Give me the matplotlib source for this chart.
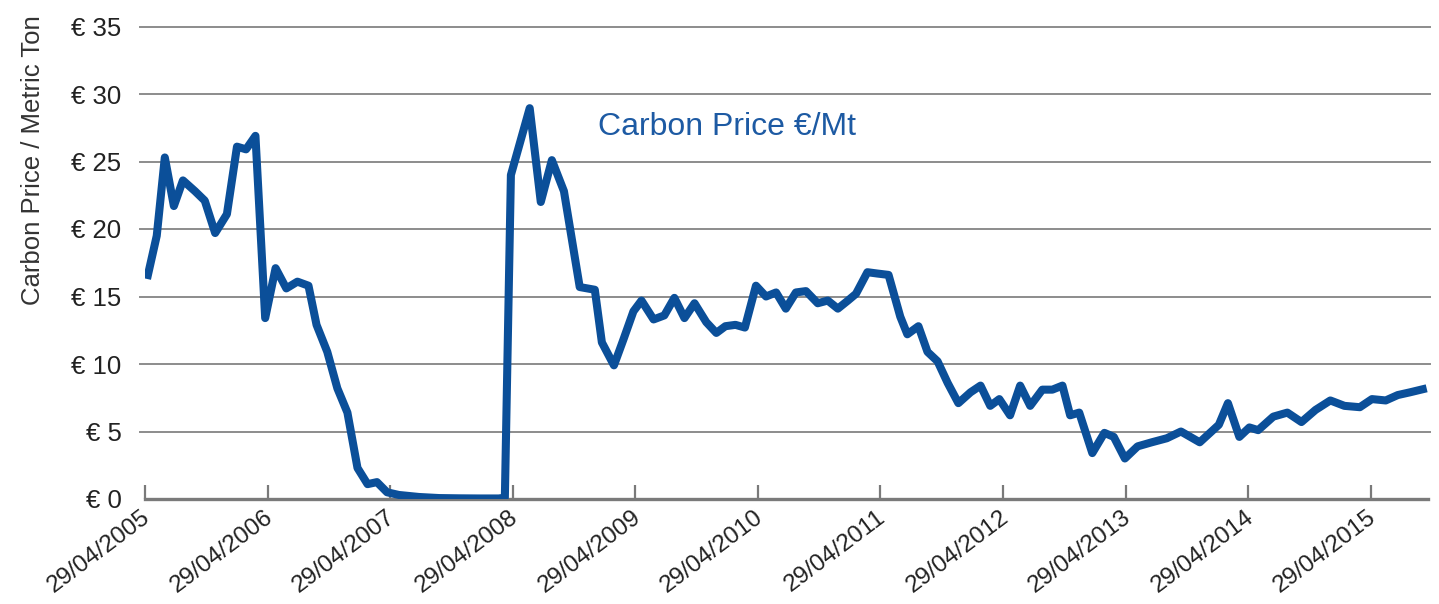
import matplotlib
matplotlib.use("Agg")
import matplotlib.pyplot as plt
import matplotlib.dates as mdates
import matplotlib.transforms as mtransforms
import pandas as pd

dates = [
    "2005-05-05", "2005-06-03", "2005-06-27", "2005-07-24", "2005-08-20", "2005-09-25",
    "2005-10-24", "2005-11-24", "2005-12-29", "2006-01-28", "2006-02-24", "2006-03-24",
    "2006-04-22", "2006-05-23", "2006-06-24", "2006-07-27", "2006-08-29", "2006-09-22",
    "2006-10-24", "2006-11-23", "2006-12-23", "2007-01-22", "2007-02-21", "2007-03-21",
    "2007-04-20", "2007-05-25", "2007-07-24", "2007-09-22", "2007-11-20", "2008-01-19",
    "2008-03-18", "2008-04-05", "2008-04-23", "2008-06-18", "2008-07-21", "2008-08-23",
    "2008-09-28", "2008-11-14", "2008-12-29", "2009-01-19", "2009-02-24", "2009-03-24",
    "2009-04-23", "2009-05-17", "2009-06-22", "2009-07-24", "2009-08-23", "2009-09-22",
    "2009-10-22", "2009-11-26", "2009-12-26", "2010-01-22", "2010-02-21", "2010-03-21",
    "2010-04-23", "2010-05-23", "2010-06-22", "2010-07-21", "2010-08-20", "2010-09-19",
    "2010-10-24", "2010-11-23", "2010-12-23", "2011-01-22", "2011-02-15", "2011-03-21",
    "2011-04-20", "2011-05-23", "2011-06-27", "2011-07-18", "2011-08-20", "2011-09-16",
    "2011-10-16", "2011-11-15", "2011-12-17", "2012-01-22", "2012-02-21", "2012-03-21",
    "2012-04-17", "2012-05-19", "2012-06-18", "2012-07-18", "2012-08-23", "2012-09-22",
    "2012-10-22", "2012-11-14", "2012-12-11", "2013-01-19", "2013-02-24", "2013-03-24",
    "2013-04-26", "2013-06-03", "2013-07-15", "2013-08-29", "2013-10-10", "2013-12-05",
    "2014-01-31", "2014-02-27", "2014-04-02", "2014-05-02", "2014-05-28", "2014-07-12",
    "2014-08-23", "2014-10-04", "2014-11-15", "2014-12-29", "2015-02-09", "2015-03-27",
    "2015-05-02", "2015-06-12", "2015-07-18", "2015-08-23", "2015-10-12",
]
prices = [
    16.3, 19.5, 25.3, 21.7, 23.6, 22.8,
    22.1, 19.7, 21.1, 26.1, 25.9, 26.9,
    13.4, 17.1, 15.6, 16.1, 15.8, 12.9,
    10.9, 8.2, 6.4, 2.3, 1.1, 1.25,
    0.5, 0.3, 0.15, 0.07, 0.05, 0.04,
    0.04, 0.1, 24.0, 28.95, 22.0, 25.1,
    22.8, 15.7, 15.5, 11.6, 9.9, 11.8,
    13.9, 14.7, 13.3, 13.6, 14.9, 13.4,
    14.5, 13.1, 12.3, 12.8, 12.9, 12.7,
    15.8, 15.0, 15.3, 14.1, 15.3, 15.4,
    14.5, 14.7, 14.1, 14.7, 15.2, 16.8,
    16.7, 16.6, 13.5, 12.2, 12.8, 10.9,
    10.2, 8.6, 7.1, 7.9, 8.4, 6.9,
    7.4, 6.2, 8.4, 6.9, 8.1, 8.1,
    8.4, 6.2, 6.4, 3.4, 4.9, 4.6,
    3.0, 3.9, 4.2, 4.5, 5.0, 4.2,
    5.5, 7.1, 4.6, 5.3, 5.1, 6.1,
    6.4, 5.7, 6.6, 7.3, 6.9, 6.8,
    7.4, 7.3, 7.7, 7.9, 8.2,
]
tick_dates = ["2005-04-29", "2006-04-29", "2007-04-29", "2008-04-29", "2009-04-29",
              "2010-04-29", "2011-04-29", "2012-04-29", "2013-04-29", "2014-04-29",
              "2015-04-29"]
y_ticks = [0, 5, 10, 15, 20, 25, 30, 35]
y_labels = ["€ 0", "€ 5", "€ 10", "€ 15", "€ 20", "€ 25", "€ 30", "€ 35"]
series_label = "Carbon Price €/Mt"
y_title = "Carbon Price / Metric Ton"

plt.rcParams["font.family"] = ["Liberation Sans", "DejaVu Sans"]

W, H = 1439, 604
fig = plt.figure(figsize=(W / 100, H / 100), dpi=100)
ax = fig.add_axes([145 / W, 1 - 499 / H, (1428 - 145) / W, (499 - 26.5) / H])

x = pd.to_datetime(dates)
ax.plot(x, prices, color="#0b4f99", lw=5.8, solid_joinstyle="round",
        solid_capstyle="butt", zorder=3)

ax.set_xlim(pd.Timestamp("2005-04-29"), pd.Timestamp("2015-10-16"))
ax.set_ylim(0, 35)

for v in y_ticks[1:]:
    ax.axhline(v, xmin=-0.004, xmax=1.0015, color="#8c8c8c", lw=1.4, zorder=1,
               clip_on=False)

for s in ["top", "right", "left"]:
    ax.spines[s].set_visible(False)
ax.spines["bottom"].set_color("#7a7a7a")
ax.spines["bottom"].set_linewidth(2.4)
ax.spines["bottom"].set_zorder(2)

ax.set_yticks(y_ticks)
ax.set_yticklabels(y_labels)
ax.tick_params(axis="y", length=0, pad=17, labelsize=18.5, labelcolor="#222222")

ax.set_xticks(pd.to_datetime(tick_dates))
ax.xaxis.set_major_formatter(mdates.DateFormatter("%d/%m/%Y"))
ax.tick_params(axis="x", direction="in", length=10, width=1.6, color="#7a7a7a",
               labelsize=17.5, labelcolor="#222222", pad=5)
shift = mtransforms.ScaledTranslation(-4 / 100, 0, fig.dpi_scale_trans)
for lab in ax.get_xticklabels():
    lab.set_rotation(37)
    lab.set_ha("right")
    lab.set_va("top")
    lab.set_rotation_mode("anchor")
    lab.set_transform(lab.get_transform() + shift)

fig.text(33 / W, 1 - 160 / H, y_title, rotation=90, ha="center", va="center",
         fontsize=18.5, color="#333333")
fig.text(598 / W, 1 - 127 / H, series_label, ha="left", va="center",
         fontsize=23, color="#1d5aa3")

fig.savefig("out.png", dpi=100)
